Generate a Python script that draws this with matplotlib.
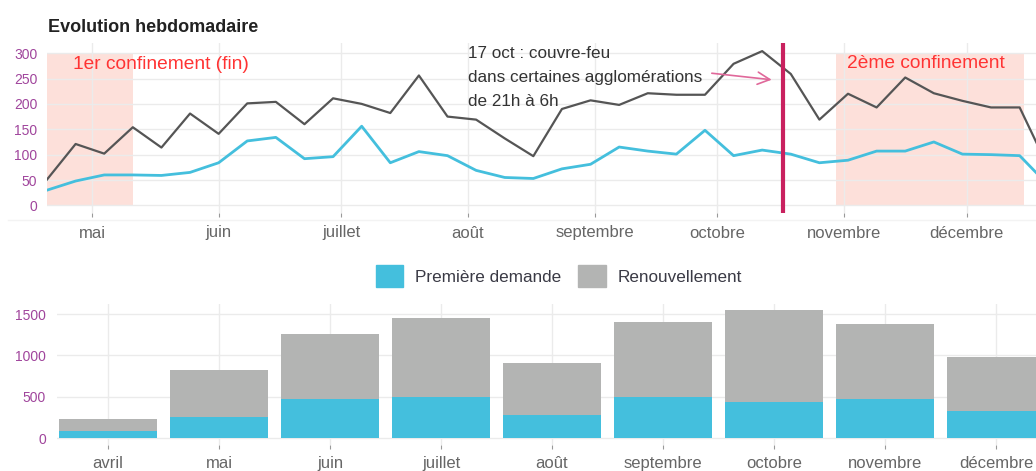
import matplotlib
matplotlib.use("Agg")
import matplotlib.pyplot as plt
from matplotlib.patches import Patch
from matplotlib.lines import Line2D
import datetime as dt

plt.rcParams['font.family'] = ['Liberation Sans', 'DejaVu Sans']

# weekly series (from 2020-04-20)
start = dt.date(2020, 4, 20)
weeks = [start + dt.timedelta(days=7 * i) for i in range(36)]
renouvellement_hebdo = [51, 121, 102, 154, 114, 181, 141, 201, 204, 160, 211, 200,
                        182, 256, 175, 169, 132, 97, 190, 207, 198, 221, 218, 218,
                        279, 304, 259, 169, 220, 193, 252, 221, 206, 193, 193, 75]
premiere_hebdo = [30, 48, 60, 60, 59, 65, 84, 127, 134, 92, 96, 156,
                  84, 106, 98, 69, 55, 53, 72, 81, 115, 107, 101, 148,
                  98, 109, 101, 84, 89, 107, 107, 125, 101, 100, 98, 40]

# monthly totals
mois = ['avril', 'mai', 'juin', 'juillet', 'août', 'septembre', 'octobre', 'novembre', 'décembre']
premiere_mois = [84, 263, 479, 499, 279, 499, 443, 479, 327]
total_mois = [239, 830, 1260, 1448, 909, 1400, 1548, 1380, 977]
renouvellement_mois = [t - p for t, p in zip(total_mois, premiere_mois)]

month_ticks = [dt.date(2020, m, 1) for m in range(5, 13)]
month_labels = mois[1:]

CYAN = '#44bfdd'
GREY_BAR = '#b3b4b3'
DARK = '#555555'
TICK_COL = '#a0459c'
GRID = '#ebebeb'

fig = plt.figure(figsize=(10.36, 4.71), dpi=100)

# ---- weekly chart
ax = fig.add_axes([47 / 1036, 1 - 213 / 471, 1 - 47 / 1036, 170 / 471])
ax.axvspan(start, dt.date(2020, 5, 11), ymin=15 / 335, ymax=315 / 335, color='#fde0da', lw=0, zorder=0)
ax.axvspan(dt.date(2020, 10, 30), dt.date(2020, 12, 15), ymin=15 / 335, ymax=315 / 335,
           color='#fde0da', lw=0, zorder=0)
ax.plot(weeks, renouvellement_hebdo, color=DARK, lw=1.6, zorder=3)
ax.plot(weeks, premiere_hebdo, color=CYAN, lw=2.0, zorder=3)
ax.axvline(dt.date(2020, 10, 17), ymin=0.01, ymax=0.99, color='#c9215f', lw=3, zorder=4)

ax.text(dt.date(2020, 5, 18), 277, '1er confinement (fin)', color='#ff3333', fontsize=13.8,
        ha='center', va='center', zorder=5)
ax.text(dt.date(2020, 11, 21), 279, '2ème confinement', color='#ff3333', fontsize=13.8,
        ha='center', va='center', zorder=5)
ax.text(dt.date(2020, 8, 1), 252, "17 oct : couvre-feu\ndans certaines agglomérations\nde 21h à 6h",
        fontsize=12.3, color='#333333', ha='left', va='center', linespacing=1.72, zorder=5)
ax.annotate('', xy=(dt.date(2020, 10, 15), 247), xytext=(dt.date(2020, 9, 29), 261),
            arrowprops=dict(arrowstyle='->', color='#e0689a', lw=1.2, mutation_scale=22), zorder=5)

ax.set_xlim(start, start + dt.timedelta(days=242))
ax.set_ylim(-15, 320)
ax.set_yticks([0, 50, 100, 150, 200, 250, 300])
ax.set_xticks(month_ticks)
ax.set_xticklabels(month_labels)
ax.grid(True, color=GRID, lw=1)
ax.set_axisbelow(True)
for s in ax.spines.values():
    s.set_visible(False)
ax.tick_params(axis='y', length=0, pad=7, labelsize=10, labelcolor=TICK_COL)
ax.tick_params(axis='x', length=3, width=0.8, color='#999999', pad=6, labelsize=12, labelcolor='#666666')

fig.text(48 / 1036, 1 - 27 / 471, 'Evolution hebdomadaire', fontsize=13, fontweight='bold',
         color='#222222', ha='left', va='center')
fig.add_artist(Line2D([8 / 1036, 1], [1 - 220 / 471, 1 - 220 / 471], color='#f3f3f3', lw=1))

# ---- monthly chart
ax2 = fig.add_axes([57 / 1036, 1 - 444.7 / 471, 1 - 57 / 1036, 141 / 471])
x = list(range(len(mois)))
ax2.bar(x, premiere_mois, width=0.88, color=CYAN, zorder=2)
ax2.bar(x, renouvellement_mois, bottom=premiere_mois, width=0.88, color=GREY_BAR, zorder=2)
ax2.set_xlim(-0.46, 8.36)
ax2.set_ylim(-77, 1625)
ax2.set_yticks([0, 500, 1000, 1500])
ax2.set_xticks(x)
ax2.set_xticklabels(mois)
ax2.grid(True, color=GRID, lw=1)
ax2.set_axisbelow(True)
for s in ax2.spines.values():
    s.set_visible(False)
ax2.tick_params(axis='y', length=0, pad=8, labelsize=10, labelcolor=TICK_COL)
ax2.tick_params(axis='x', length=3, width=0.8, color='#999999', pad=5, labelsize=12, labelcolor='#666666')

handles = [Patch(color=CYAN, label='Première demande'), Patch(color=GREY_BAR, label='Renouvellement')]
leg = fig.legend(handles=handles, loc='center', bbox_to_anchor=(559 / 1036, 1 - 276 / 471), ncol=2,
                 frameon=False, fontsize=12.3, handlelength=1.6, handleheight=1.6,
                 handletextpad=0.7, columnspacing=1.0)
for t in leg.get_texts():
    t.set_color('#3a3a45')

fig.savefig('out.png', dpi=100)
